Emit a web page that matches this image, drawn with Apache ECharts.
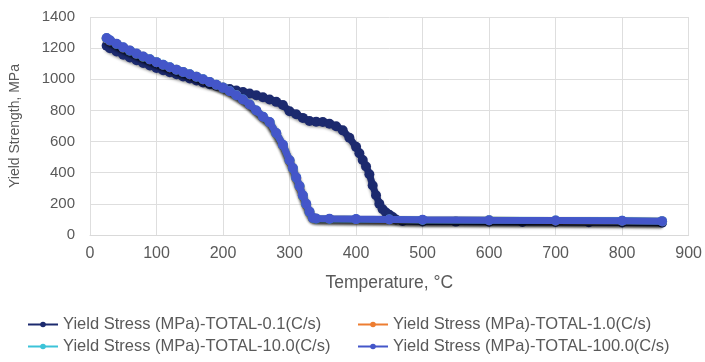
<!DOCTYPE html>
<html>
<head>
<meta charset="utf-8">
<script src="https://cdn.jsdelivr.net/npm/echarts@6/dist/echarts.min.js"></script>
<style>
  html, body { margin: 0; padding: 0; background: #fff; }
  #chart { width: 705px; height: 362px; }
</style>
</head>
<body>
<div id="chart"></div>
<script>
// temperatures (°C) and yield stress (MPa)
const tempSlow = [25, 30, 40, 50, 60, 70, 80, 90, 100, 110, 120, 130, 140, 150, 160, 170, 180, 190, 200,
  210, 220, 230, 240, 250, 260, 270, 280, 290, 300, 310, 320, 330, 340, 350, 360, 370, 380, 390,
  400, 405, 410, 415, 420, 425, 430, 435, 440, 445, 450, 455, 460, 470, 500, 550, 600, 650, 700, 750, 800, 860];
const ys01 = [1215, 1200, 1178, 1158, 1140, 1122, 1105, 1088, 1073, 1058, 1045, 1032, 1018, 1005, 992, 980, 968, 958, 948,
  938, 928, 918, 908, 897, 885, 870, 855, 835, 795, 775, 752, 732, 728, 726, 715, 698, 672, 625,
  566, 525, 482, 440, 390, 318, 255, 200, 165, 145, 130, 115, 100, 90, 87, 86, 85, 84, 83, 82, 81, 79];

const tempFast = [25, 30, 40, 50, 60, 70, 80, 90, 100, 110, 120, 130, 140, 150, 160, 170, 180, 190, 200,
  210, 220, 230, 240, 250, 260, 270, 280, 290, 300, 305, 310, 315, 320, 325, 330, 335, 340, 360,
  400, 450, 500, 600, 700, 800, 860];
const ys1 = [1262, 1248, 1226, 1203, 1183, 1163, 1144, 1127, 1109, 1092, 1076, 1061, 1046, 1031, 1016, 999, 982, 964, 944,
  922, 897, 869, 837, 798, 757, 722, 652, 575, 476, 425, 365, 310, 250, 195, 145, 108, 104, 102,
  100, 98, 96, 94, 92, 90, 88];
const ys10 = [1264, 1249, 1227, 1204, 1184, 1164, 1145, 1128, 1110, 1093, 1077, 1062, 1047, 1032, 1017, 1000, 983, 965, 945,
  923, 898, 870, 838, 799, 759, 724, 654, 578, 478, 428, 368, 313, 253, 197, 147, 109, 105, 103,
  101, 99, 97, 95, 93, 91, 89];
const ys100 = [1265, 1250, 1228, 1205, 1185, 1165, 1146, 1128, 1110, 1093, 1077, 1062, 1047, 1032, 1017, 1000, 983, 965, 945,
  923, 898, 870, 838, 800, 760, 725, 655, 580, 480, 430, 370, 315, 255, 200, 150, 110, 106, 104,
  102, 100, 98, 95, 93, 91, 89];

const seriesNames = [
  'Yield Stress (MPa)-TOTAL-0.1(C/s)',
  'Yield Stress (MPa)-TOTAL-1.0(C/s)',
  'Yield Stress (MPa)-TOTAL-10.0(C/s)',
  'Yield Stress (MPa)-TOTAL-100.0(C/s)'
];
const colors = ['#1c2a6e', '#ed7d31', '#3cc3d8', '#4456c9'];

const xTicks = [0, 100, 200, 300, 400, 500, 600, 700, 800, 900];
const yTicks = [0, 200, 400, 600, 800, 1000, 1200, 1400];

const pair = (xs, ys) => xs.map((x, i) => [x, ys[i]]);

const lineSeries = (i, data) => ({
  name: seriesNames[i],
  type: 'line',
  data: data,
  symbol: 'circle',
  symbolSize: 10,
  showSymbol: true,
  silent: true,
  color: colors[i],
  lineStyle: {
    width: 7,
    color: colors[i],
    shadowColor: 'rgba(0,0,0,0.45)',
    shadowBlur: 3,
    shadowOffsetY: 2
  },
  itemStyle: { color: colors[i] },
  z: 2 + i
});

const grey = '#595959';
const font = 'Liberation Sans, Arial, sans-serif';

const legendBase = {
  orient: 'vertical',
  top: 311,
  itemWidth: 30,
  itemHeight: 7,
  itemGap: 5,
  lineStyle: { width: 2, shadowBlur: 0, shadowOffsetY: 0 },
  textStyle: { color: grey, fontSize: 16.5, fontFamily: font }
};

const chart = echarts.init(document.getElementById('chart'), null, { renderer: 'canvas' });
chart.setOption({
  animation: false,
  backgroundColor: '#fff',
  textStyle: { fontFamily: font },
  grid: { left: 84, right: 16, top: 17, bottom: 127 },
  legend: [
    Object.assign({}, legendBase, { data: [seriesNames[0], seriesNames[2]], left: 22 }),
    Object.assign({}, legendBase, { data: [seriesNames[1], seriesNames[3]], left: 352 })
  ],
  xAxis: {
    type: 'value',
    min: xTicks[0],
    max: xTicks[xTicks.length - 1],
    interval: 100,
    name: 'Temperature, °C',
    nameLocation: 'middle',
    nameGap: 39,
    nameTextStyle: { color: grey, fontSize: 17.5, fontFamily: font },
    axisLine: { show: true, lineStyle: { color: '#d9d9d9', width: 1 } },
    axisTick: { show: false },
    axisLabel: { color: grey, fontSize: 16, margin: 11, fontFamily: font },
    splitLine: { show: true, lineStyle: { color: '#dedede', width: 1 } }
  },
  yAxis: {
    type: 'value',
    min: yTicks[0],
    max: yTicks[yTicks.length - 1],
    interval: 200,
    name: 'Yield Strength, MPa',
    nameLocation: 'middle',
    nameGap: 68,
    nameTextStyle: { color: grey, fontSize: 14, fontFamily: font },
    axisLine: { show: false },
    axisTick: { show: false },
    axisLabel: { color: grey, fontSize: 15, margin: 15, fontFamily: font, formatter: v => String(v) },
    splitLine: { show: true, lineStyle: { color: '#dedede', width: 1 } }
  },
  series: [
    lineSeries(0, pair(tempSlow, ys01)),
    lineSeries(1, pair(tempFast, ys1)),
    lineSeries(2, pair(tempFast, ys10)),
    lineSeries(3, pair(tempFast, ys100))
  ]
});
</script>
</body>
</html>
